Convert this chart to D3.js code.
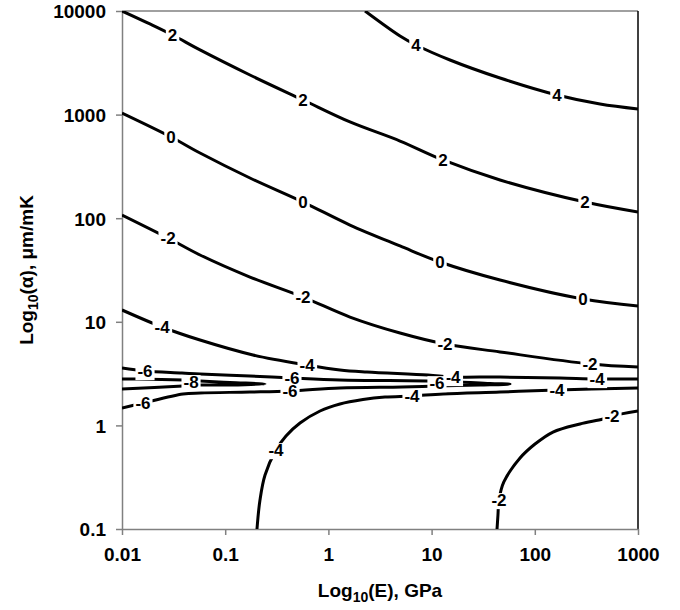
<!DOCTYPE html>
<html>
<head>
<meta charset="utf-8">
<script src="https://cdn.jsdelivr.net/npm/d3@7"></script>
<style>
body { margin: 0; background: #fff; }
svg { font-family: "Liberation Sans", Arial, sans-serif; font-weight: bold; }
</style>
</head>
<body>
<svg id="chart" width="680" height="610"></svg>
<script>
// axis ticks (log10 values) and their labels
var xTicks = [-2, -1, 0, 1, 2, 3];
var xTickLabels = ["0.01", "0.1", "1", "10", "100", "1000"];
var yTicks = [-1, 0, 1, 2, 3, 4];
var yTickLabels = ["0.1", "1", "10", "100", "1000", "10000"];

// contour lines, points are [log10(E), log10(alpha)]
var line4 = [[0.355,4.0],[0.694,3.759],[0.849,3.672],[1.178,3.527],[1.663,3.353],[2.215,3.189],[2.632,3.102],[3.0,3.054]];
var line2 = [[-2,4.0],[-1.73,3.875],[-1.51,3.768],[-1.244,3.624],[-0.76,3.382],[-0.246,3.141],[0.209,2.929],[0.694,2.745],[1.11,2.562],[1.663,2.369],[2.487,2.156],[3.0,2.06]];
var line0 = [[-2,3.015],[-1.525,2.784],[-1.244,2.629],[-0.76,2.388],[-0.246,2.156],[0.209,1.934],[0.694,1.732],[1.081,1.577],[1.663,1.403],[2.467,1.22],[3.0,1.153]];
var lineM2 = [[-2,2.031],[-1.554,1.809],[-1.244,1.645],[-0.76,1.432],[-0.246,1.239],[0.209,1.046],[0.694,0.892],[1.13,0.786],[1.663,0.709],[2.535,0.593],[3.0,0.564]];
var lineM4a = [[-2,1.114],[-1.612,0.95],[-1.244,0.824],[-0.731,0.68],[-0.207,0.583],[0.112,0.535],[0.374,0.515],[0.965,0.486],[1.207,0.467],[1.663,0.467],[2.244,0.457],[2.603,0.448],[3.0,0.448]];
var lineM6 = [[-2,0.554],[-1.777,0.525],[-1.419,0.506],[-1.244,0.496],[-0.76,0.477],[-0.353,0.457],[0.112,0.438],[0.955,0.429],[1.275,0.419],[1.566,0.404],[1.76,0.399],
              [1.47,0.39],[1.052,0.38],[0.713,0.371],[0.112,0.361],[-0.372,0.332],[-0.76,0.322],[-1.244,0.313],[-1.409,0.303],[-1.797,0.216],[-2,0.168]];
var lineM8 = [[-2,0.448],[-1.874,0.448],[-1.409,0.438],[-1.244,0.429],[-0.954,0.414],[-0.614,0.399],
              [-0.954,0.39],[-1.244,0.39],[-1.409,0.38],[-2,0.351]];
var lineM4b = [[-0.692,-1.0],[-0.663,-0.72],[-0.614,-0.479],[-0.508,-0.238],[-0.411,-0.102],[-0.275,0.023],[-0.081,0.139],[0.112,0.207],[0.335,0.25],[0.548,0.274],[0.81,0.284],[1.11,0.303],[1.663,0.322],[2.215,0.342],[3.0,0.361]];
var lineM2b = [[1.634,-1.0],[1.643,-0.865],[1.653,-0.72],[1.70,-0.546],[1.857,-0.315],[2.002,-0.18],[2.176,-0.064],[2.438,0.014],[2.661,0.062],[2.748,0.091],[3.0,0.139]];

var contourLines = [line4, line2, line0, lineM2, lineM4a, lineM6, lineM8, lineM4b, lineM2b];

// contour labels: [level, log10(E), log10(alpha)]
var contourLabels = [
  [4, 0.849, 3.672], [4, 2.215, 3.189],
  [2, -1.51, 3.768], [2, -0.246, 3.141], [2, 1.11, 2.562], [2, 2.487, 2.156],
  [0, -1.525, 2.784], [0, -0.246, 2.156], [0, 1.081, 1.577], [0, 2.467, 1.22],
  [-2, -1.554, 1.809], [-2, -0.246, 1.239], [-2, 1.13, 0.786], [-2, 2.535, 0.593],
  [-4, -1.612, 0.95], [-4, -0.207, 0.583], [-4, 1.207, 0.467], [-4, 2.603, 0.448],
  [-6, -1.777, 0.525], [-6, -1.797, 0.216], [-6, -0.353, 0.457], [-6, -0.372, 0.332], [-6, 1.052, 0.409],
  [-8, -1.331, 0.419],
  [-4, -0.508, -0.238], [-4, 0.81, 0.284], [-4, 2.215, 0.342],
  [-2, 1.653, -0.72], [-2, 2.748, 0.091]
];

var svg = d3.select("#chart");
var pL = 122, pR = 638, pT = 11, pB = 529;

var x = d3.scaleLinear().domain([-2, 3]).range([pL, pR]);
var y = d3.scaleLinear().domain([-1, 4]).range([pB, pT]);

svg.append("clipPath").attr("id", "plotclip")
  .append("rect").attr("x", pL).attr("y", pT)
  .attr("width", pR - pL).attr("height", pB - pT);

// plot border (top grey, right black)
svg.append("line").attr("x1", pL).attr("x2", pR).attr("y1", pT).attr("y2", pT)
  .attr("stroke", "#808080").attr("stroke-width", 1.5);
svg.append("line").attr("x1", pR).attr("x2", pR).attr("y1", pT).attr("y2", pB)
  .attr("stroke", "#000").attr("stroke-width", 1.5);

var xAxis = svg.append("g")
  .attr("transform", "translate(0," + pB + ")")
  .call(d3.axisBottom(x).tickValues(xTicks).tickFormat(function(d, i) { return xTickLabels[i]; })
        .tickSize(6).tickSizeOuter(0).tickPadding(13));
var yAxis = svg.append("g")
  .attr("transform", "translate(" + pL + ",0)")
  .call(d3.axisLeft(y).tickValues(yTicks).tickFormat(function(d, i) { return yTickLabels[i]; })
        .tickSize(6).tickSizeOuter(0).tickPadding(10));

[xAxis, yAxis].forEach(function(a) {
  a.select(".domain").attr("stroke", "#808080").attr("stroke-width", 1.5);
  a.selectAll(".tick line").attr("stroke", "#808080").attr("stroke-width", 1.5);
  a.selectAll(".tick text").attr("font-size", 19).attr("font-weight", "bold")
    .attr("font-family", "Liberation Sans, Arial, sans-serif").attr("fill", "#000");
});
yAxis.selectAll(".tick text").attr("dy", "0.36em");

var line = d3.line()
  .x(function(d) { return x(d[0]); })
  .y(function(d) { return y(d[1]); })
  .curve(d3.curveCatmullRom.alpha(0.5));

var plot = svg.append("g").attr("clip-path", "url(#plotclip)");
plot.selectAll("path.contour")
  .data(contourLines)
  .enter().append("path")
  .attr("class", "contour")
  .attr("d", line)
  .attr("fill", "none")
  .attr("stroke", "#000")
  .attr("stroke-width", 3)
  .attr("stroke-linejoin", "round");

// labels knock the lines out with a white box
var lab = plot.selectAll("g.clabel")
  .data(contourLabels)
  .enter().append("g")
  .attr("class", "clabel")
  .attr("transform", function(d) { return "translate(" + x(d[1]) + "," + y(d[2]) + ")"; });
lab.append("text")
  .attr("text-anchor", "middle")
  .attr("dy", "0.36em")
  .attr("font-size", 17)
  .text(function(d) { return d[0]; });
lab.each(function() {
  var g = d3.select(this);
  var b = g.select("text").node().getBBox();
  g.insert("rect", "text")
    .attr("x", b.x - 2).attr("y", b.y + 2)
    .attr("width", b.width + 4).attr("height", b.height - 3)
    .attr("fill", "#fff");
});

// axis titles
var xt = svg.append("text")
  .attr("x", (pL + pR) / 2).attr("y", 597)
  .attr("text-anchor", "middle").attr("font-size", 19);
xt.append("tspan").text("Log");
xt.append("tspan").attr("font-size", 14).attr("dy", 5).text("10");
xt.append("tspan").attr("dy", -5).text("(E), GPa");

var yt = svg.append("text")
  .attr("transform", "translate(33," + (pT + pB) / 2 + ") rotate(-90)")
  .attr("text-anchor", "middle").attr("font-size", 19);
yt.append("tspan").text("Log");
yt.append("tspan").attr("font-size", 14).attr("dy", 5).text("10");
yt.append("tspan").attr("dy", -5).text("(\u03b1), \u03bcm/mK");
</script>
</body>
</html>
